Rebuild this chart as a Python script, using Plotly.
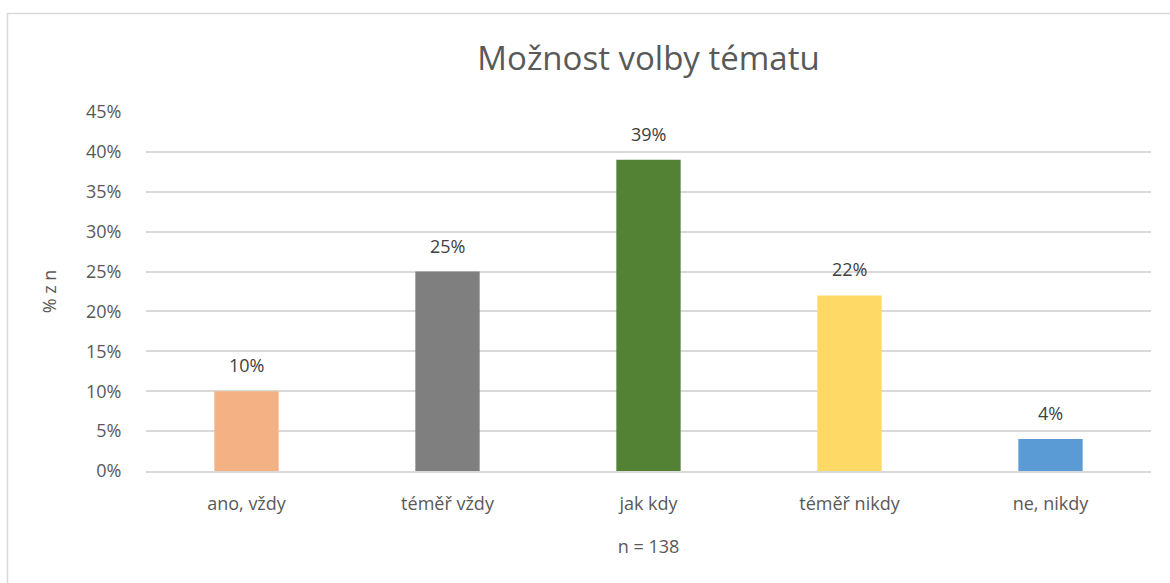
import plotly.graph_objects as go

categories = ["ano, vždy", "téměř vždy", "jak kdy", "téměř nikdy", "ne, nikdy"]
values = [10, 25, 39, 22, 4]
colors = ["#F4B183", "#7F7F7F", "#548235", "#FFD966", "#5B9BD5"]
y_ticks = [0, 5, 10, 15, 20, 25, 30, 35, 40, 45]
y_tick_labels = [f"{v}%" for v in y_ticks]
title_text = "Možnost volby tématu"
x_title = "n = 138"
y_title = "% z n"

FONT = "Open Sans"
GREY = "#595959"
TS = 18

fig = go.Figure()
fig.add_trace(go.Bar(
    x=categories, y=values, marker=dict(color=colors, line=dict(width=0)),
    hoverinfo="skip", showlegend=False,
))

for c, v in zip(categories, values):
    fig.add_annotation(x=c, y=v, text=f"{v}%", showarrow=False, yshift=26,
                       font=dict(family=FONT, size=TS, color="#404040"))

# chart border
fig.add_shape(type="rect", xref="paper", yref="paper",
              x0=(7.5 - 146) / 1005, x1=(1180 - 146) / 1005,
              y0=-(600 - 471) / 359, y1=1 + (112 - 13.5) / 359,
              line=dict(color="#D9D9D9", width=1.5), fillcolor="rgba(0,0,0,0)", layer="below")

fig.update_layout(
    width=1170, height=583,
    margin=dict(l=146, r=19, t=112, b=112, autoexpand=False),
    paper_bgcolor="white", plot_bgcolor="white",
    bargap=0.68,
    font=dict(family=FONT, color=GREY),
    title=dict(text=title_text, x=0.5, xref="paper", xanchor="center",
               y=1 - 58 / 583, yanchor="middle", yref="container",
               font=dict(family=FONT, size=33, color=GREY)),
    xaxis=dict(
        showgrid=False, showline=True, linecolor="#D9D9D9", linewidth=1.5,
        ticks="outside", ticklen=16, tickcolor="rgba(0,0,0,0)",
        tickfont=dict(family=FONT, size=TS, color=GREY),
        title=dict(text=x_title, standoff=26, font=dict(family=FONT, size=TS, color=GREY)),
    ),
    yaxis=dict(
        range=[0, 45], tickvals=y_ticks, ticktext=y_tick_labels,
        showgrid=True, gridcolor="#D9D9D9", gridwidth=1.5, zeroline=False,
        showline=False,
        ticks="outside", ticklen=20, tickcolor="rgba(0,0,0,0)",
        tickfont=dict(family=FONT, size=TS, color=GREY),
        title=dict(text=y_title, standoff=24, font=dict(family=FONT, size=TS, color=GREY)),
    ),
)

fig.write_html("out.html", config={"displayModeBar": False},
               post_script="document.body.style.margin='0';document.body.style.padding='0';")
